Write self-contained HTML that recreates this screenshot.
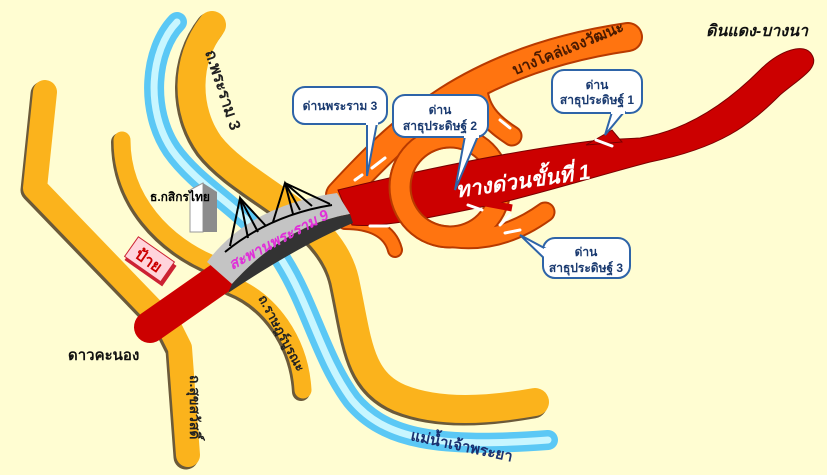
<!DOCTYPE html>
<html><head><meta charset="utf-8"><style>
html,body{margin:0;padding:0;background:#fffdd2;}
svg{display:block}
text{font-family:"Liberation Sans","DejaVu Sans","Noto Sans CJK SC",sans-serif;font-weight:bold;}
</style></head><body>
<svg width="827" height="475" viewBox="0 0 827 475" xmlns="http://www.w3.org/2000/svg">
<rect width="827" height="475" fill="#fffdd2"/>
<g fill="none" stroke-linecap="round" stroke-linejoin="round">
  <path d="M177,22 C150,50 145,110 172,150 C200,190 255,215 283,262 C310,305 322,360 352,400 C385,440 440,448 548,440" stroke="#5bc8f5" stroke-width="20"/>
  <path d="M177,22 C150,50 145,110 172,150 C200,190 255,215 283,262 C310,305 322,360 352,400 C385,440 440,448 548,440" stroke="#c8f6ff" stroke-width="7"/>
  <g stroke="#6b5a3a" transform="translate(-2,2)">
    <path d="M45,92 L35,188 L170,328 L180,348 L188,455" stroke-width="25"/>
    <path d="M122,140 C122,200 165,245 215,265" stroke-width="18"/>
    <path d="M232,285 C270,300 300,340 303,390" stroke-width="18"/>
    <path d="M212,25 C185,60 185,110 210,145 C245,190 330,215 345,280 C358,340 358,380 400,398 C440,414 490,410 535,402" stroke-width="29"/>
  </g>
  <g stroke="#fbb31c">
    <path d="M45,92 L35,188 L170,328 L180,348 L188,455" stroke-width="24"/>
    <path d="M122,140 C122,200 165,245 215,265" stroke-width="17"/>
    <path d="M232,285 C270,300 300,340 303,390" stroke-width="17"/>
    <path d="M212,25 C185,60 185,110 210,145 C245,190 330,215 345,280 C358,340 358,380 400,398 C440,414 490,410 535,402" stroke-width="28"/>
  </g>
</g>
<polygon points="190,190 203,183 203,232 190,232" fill="#ffffff" stroke="#999" stroke-width="1"/>
<polygon points="203,183 217,192 217,232 203,232" fill="#8c8c8c"/>
<text x="150" y="201" font-size="12" fill="#000">ธ.กสิกรไทย</text>
<g transform="translate(150,262) rotate(35)">
  <rect x="-22" y="-12" width="46" height="25" fill="#cc2233"/>
  <rect x="-24" y="-14" width="44" height="24" fill="#ffd4dc" stroke="#cc2233" stroke-width="1"/>
  <text x="-2" y="5" font-size="16" fill="#cc0000" text-anchor="middle">ป้าย</text>
</g>
<g fill="none" stroke-linecap="round">
  <g stroke="#b83a00">
    <path d="M340,195 C400,130 470,60 628,37" stroke-width="30"/>
    <path d="M478,78 C475,110 495,125 512,136" stroke-width="21"/>
    <circle cx="450" cy="187" r="50" stroke-width="23"/>
    <path d="M455,238 C490,242 520,230 545,212" stroke-width="21"/>
    <path d="M345,222 C370,222 390,230 395,250" stroke-width="16"/>
    <path d="M345,205 C380,215 400,215 420,208" stroke-width="14"/>
  </g>
  <g stroke="#ff7410">
    <path d="M340,195 C400,130 470,60 628,37" stroke-width="26"/>
    <path d="M478,78 C475,110 495,125 512,136" stroke-width="17"/>
    <circle cx="450" cy="187" r="50" stroke-width="19"/>
    <path d="M455,238 C490,242 520,230 545,212" stroke-width="17"/>
    <path d="M345,222 C370,222 390,230 395,250" stroke-width="12"/>
    <path d="M345,205 C380,215 400,215 420,208" stroke-width="10"/>
  </g>
</g>
<path d="M220,278 L150,327" stroke="#cc0000" stroke-width="32" stroke-linecap="round"/>
<path d="M338,190 C400,175 500,152 600,140 L640,138 C690,130 730,100 760,70 C780,50 805,42 812,55 C820,68 800,78 780,95 C750,125 720,148 650,162 C600,175 560,188 500,203 C430,218 380,228 352,225 Z" fill="#cc0000" stroke="#7a0000" stroke-width="1"/>
<polygon points="586,145 612,130 622,142" fill="#cc0000" stroke="#7a0000" stroke-width="1"/>
<path d="M470,200 L512,208" stroke="#cc0000" stroke-width="7"/>
<path d="M450,137 A50,50 0 0 0 450,237" fill="none" stroke="#b83a00" stroke-width="23"/>
<path d="M450,137 A50,50 0 0 0 450,237" fill="none" stroke="#ff7410" stroke-width="19"/>
<g stroke="#fff" stroke-width="3" stroke-linecap="round" fill="none">
  <path d="M372,168 L385,158"/><path d="M355,180 L362,175"/>
  <path d="M370,226 L388,226"/><path d="M500,120 L510,128"/>
  <path d="M468,205 L482,210"/><path d="M500,225 L510,215"/>
  <path d="M505,233 L520,230"/><path d="M596,140 L612,146"/>
  <path d="M435,125 L445,135"/>
</g>
<path d="M207,262 Q250,205 337,193 L350,214 Q285,225 232,284 Z" fill="#c4c4c4"/>
<path d="M232,284 Q285,225 350,214 L353,223 Q300,245 228,293 Z" fill="#333"/>
<g stroke="#000" stroke-width="2" fill="none">
  <path d="M225,252 Q270,215 332,205"/>
  <path d="M230,246 L240,198 L258,232"/>
  <path d="M240,198 L248,238 M240,198 L266,226"/>
  <path d="M273,222 L285,183 L300,210"/>
  <path d="M285,183 L293,214 M285,183 L312,206 M285,183 L330,204"/>
</g>
<text transform="translate(232,270) rotate(-28)" font-size="15" font-style="italic" fill="#e030d8">สะพานพระราม 9</text>
<text transform="translate(524,188) rotate(-8)" font-size="21" font-style="italic" fill="#fff" text-anchor="middle">ทางด่วนขั้นที่ 1</text>
<text transform="translate(515,75) rotate(-22)" font-size="15" fill="#4a1a00">บางโคล่แจงวัฒนะ</text>
<text x="757" y="36" font-size="16" font-style="italic" fill="#111" text-anchor="middle">ดินแดง-บางนา</text>
<text x="68" y="360" font-size="15" fill="#111">ดาวคะนอง</text>
<text transform="translate(205,52) rotate(72)" font-size="16" fill="#222">ถ.พระราม 3</text>
<text transform="translate(258,298) rotate(62)" font-size="13" fill="#222">ถ.ราษฎร์บูรณะ</text>
<text transform="translate(190,375) rotate(90)" font-size="14" fill="#222">ถ.สุขสวัสดิ์</text>
<text transform="translate(410,440) rotate(12)" font-size="15" fill="#1a3070">แม่น้ำเจ้าพระยา</text>
<g fill="#fff" stroke="#2e64a8" stroke-width="2">
  <rect x="293" y="87" width="94" height="37" rx="12"/>
  <polygon points="367,123 377,123 367,176" />
  <rect x="393" y="95" width="95" height="42" rx="12"/>
  <polygon points="465,136 478,136 455,190"/>
  <rect x="552" y="70" width="90" height="43" rx="12"/>
  <polygon points="612,112 624,112 605,135"/>
  <rect x="543" y="238" width="87" height="40" rx="12"/>
  <polygon points="548,250 548,262 520,235"/>
</g>
<g fill="#fff">
  <rect x="366" y="119" width="12" height="6"/><rect x="464" y="131" width="15" height="7"/>
  <rect x="611" y="108" width="14" height="6"/><rect x="544" y="248" width="6" height="16"/>
</g>
<g font-size="12" fill="#1a3a70" text-anchor="middle">
  <text x="340" y="110">ด่านพระราม 3</text>
  <text x="440" y="114">ด่าน</text><text x="440" y="130">สาธุประดิษฐ์ 2</text>
  <text x="597" y="89">ด่าน</text><text x="597" y="104">สาธุประดิษฐ์ 1</text>
  <text x="586" y="256">ด่าน</text><text x="586" y="272">สาธุประดิษฐ์ 3</text>
</g>
</svg>
</body></html>
